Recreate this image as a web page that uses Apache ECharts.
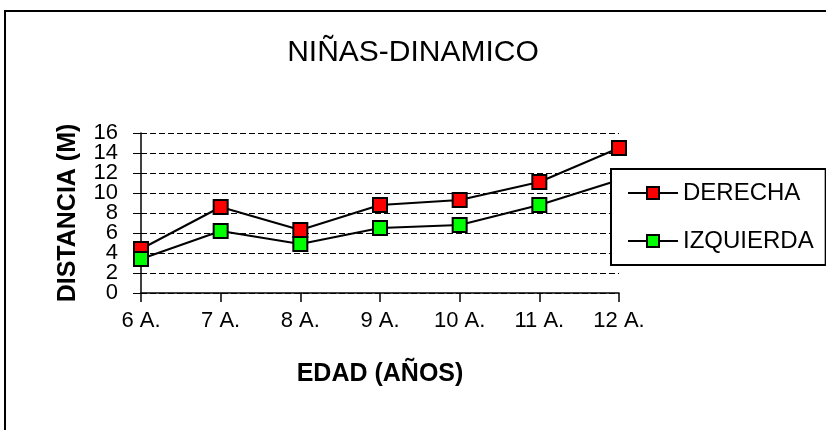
<!DOCTYPE html>
<html>
<head>
<meta charset="utf-8">
<script src="https://cdn.jsdelivr.net/npm/echarts@6/dist/echarts.min.js"></script>
<style>
  html, body { margin: 0; padding: 0; background: #fff; }
  #line-charts { width: 826px; height: 430px; }
</style>
</head>
<body>
<div id="line-charts"></div>
<script>
var edades = ['6 A.', '7 A.', '8 A.', '9 A.', '10 A.', '11 A.', '12 A.'];
var derecha = [4.4, 8.6, 6.3, 8.8, 9.3, 11.1, 14.5];
var izquierda = [3.4, 6.2, 4.9, 6.5, 6.8, 8.8, 11.3];
var yTicks = [0, 2, 4, 6, 8, 10, 12, 14, 16];

var fuente = '"Liberation Sans", Arial, sans-serif';

// the tick labels sit very close together, so they are split over two
// overlapping axes (even / odd positions) to keep echarts from hiding some
function etiquetas(par) {
  return function (v) {
    var i = yTicks.indexOf(v);
    return (i % 2 === 0) === par ? String(v) : '';
  };
}

function lineCharts() {
  var myLine = echarts.init(document.getElementById('line-charts'));
  var labelBase = { margin: 23, fontFamily: fuente, fontSize: 22, color: '#000' };
  var option = {
    backgroundColor: '#fff',
    textStyle: { fontFamily: fuente, color: '#000' },
    graphic: [
      {
        type: 'rect',
        shape: { x: 5, y: 11, width: 900, height: 500 },
        style: { fill: 'none', stroke: '#000', lineWidth: 2 },
        silent: true
      }
    ],
    title: {
      text: 'NIÑAS-DINAMICO',
      left: 'center',
      top: 33,
      textStyle: { fontFamily: fuente, fontSize: 30, fontWeight: 'normal', color: '#000' }
    },
    grid: { left: 141, right: 207, top: 133, bottom: 137 },
    legend: {
      orient: 'vertical',
      left: 611,
      top: 169,
      padding: [12, 12, 12, 16],
      itemGap: 24,
      itemWidth: 50,
      itemHeight: 15,
      backgroundColor: '#fff',
      borderColor: '#000',
      borderWidth: 2,
      textStyle: { fontFamily: fuente, fontSize: 24, color: '#000' },
      data: ['DERECHA', 'IZQUIERDA']
    },
    xAxis: {
      type: 'category',
      boundaryGap: false,
      data: edades,
      name: 'EDAD (AÑOS)',
      nameLocation: 'middle',
      nameGap: 69,
      nameTextStyle: { fontFamily: fuente, fontSize: 25, fontWeight: 'bold', color: '#000' },
      axisLine: { lineStyle: { color: '#000', width: 1.5 } },
      axisTick: { length: 9, lineStyle: { color: '#000', width: 1.5 } },
      axisLabel: { margin: 17, fontFamily: fuente, fontSize: 22, color: '#000' }
    },
    yAxis: [
      {
        type: 'value',
        position: 'left',
        min: yTicks[0],
        max: yTicks[yTicks.length - 1],
        interval: 2,
        name: 'DISTANCIA (M)',
        nameLocation: 'middle',
        nameGap: 60,
        nameTextStyle: { fontFamily: fuente, fontSize: 25, fontWeight: 'bold', color: '#000' },
        axisLine: { show: true, lineStyle: { color: '#000', width: 1.5 } },
        axisTick: { show: true, length: 8, lineStyle: { color: '#000', width: 1 } },
        axisLabel: Object.assign({ formatter: etiquetas(true) }, labelBase),
        splitLine: { lineStyle: { color: '#000', width: 1, type: [6, 3] } }
      },
      {
        type: 'value',
        position: 'left',
        offset: 0,
        min: yTicks[0],
        max: yTicks[yTicks.length - 1],
        interval: 2,
        axisLine: { show: false },
        axisTick: { show: false },
        splitLine: { show: false },
        axisLabel: Object.assign({ formatter: etiquetas(false) }, labelBase)
      }
    ],
    series: [
      {
        name: 'DERECHA',
        type: 'line',
        data: derecha,
        symbol: 'rect',
        symbolSize: 14,
        showAllSymbol: true,
        lineStyle: { color: '#000', width: 2 },
        itemStyle: { color: '#ff0000', borderColor: '#000', borderWidth: 2 },
        z: 3
      },
      {
        name: 'IZQUIERDA',
        type: 'line',
        data: izquierda,
        symbol: 'rect',
        symbolSize: 14,
        showAllSymbol: true,
        lineStyle: { color: '#000', width: 2 },
        itemStyle: { color: '#00ff00', borderColor: '#000', borderWidth: 2 },
        z: 3
      }
    ]
  };
  myLine.setOption(option);
}
lineCharts();
</script>
</body>
</html>
